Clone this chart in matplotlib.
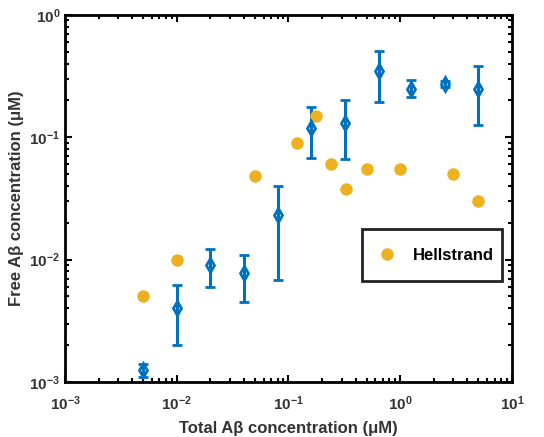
import matplotlib
matplotlib.use('Agg')
import matplotlib.pyplot as plt
from matplotlib.ticker import LogLocator, NullFormatter
from matplotlib.legend_handler import HandlerLine2D

plt.rcParams['font.family'] = ['Liberation Sans', 'DejaVu Sans']
plt.rcParams['font.weight'] = 'bold'

# Measured free Abeta (blue, with error bars)
total_meas = [0.005, 0.01, 0.02, 0.04, 0.08, 0.16, 0.32, 0.64, 1.25, 2.5, 5.0]
free_meas = [0.00125, 0.004, 0.009, 0.0078, 0.023, 0.12, 0.13, 0.35, 0.25, 0.27, 0.25]
free_low = [0.0011, 0.002, 0.006, 0.0045, 0.0068, 0.067, 0.066, 0.195, 0.215, 0.255, 0.125]
free_high = [0.0014, 0.0062, 0.0122, 0.011, 0.040, 0.175, 0.20, 0.51, 0.295, 0.29, 0.385]

# Hellstrand data (orange)
total_hell = [0.005, 0.01, 0.05, 0.12, 0.175, 0.24, 0.33, 0.5, 1.0, 3.0, 5.0]
free_hell = [0.005, 0.01, 0.048, 0.09, 0.15, 0.06, 0.038, 0.055, 0.055, 0.05, 0.03]

blue = '#0072BD'
orange = '#EDB120'


class LowerHandler(HandlerLine2D):
    # nudge the legend marker down so it lines up with the label
    def create_artists(self, *args, **kwargs):
        arts = super().create_artists(*args, **kwargs)
        for a in arts:
            a.set_ydata([y - 3.5 for y in a.get_ydata()])
        return arts


fig = plt.figure(figsize=(5.44, 4.37), dpi=100)
ax = fig.add_axes([0.1195, 0.126, 0.8215, 0.840])

yerr = [[v - lo for v, lo in zip(free_meas, free_low)],
        [hi - v for v, hi in zip(free_meas, free_high)]]
ax.errorbar(total_meas, free_meas, yerr=yerr, fmt='d', color=blue,
            mfc='none', mec=blue, mew=2, ms=7.5, elinewidth=2.2,
            capsize=3.5, capthick=2)
hell, = ax.plot(total_hell, free_hell, 'o', color=orange, ms=9, mec='none',
                label='Hellstrand')

ax.set_xscale('log')
ax.set_yscale('log')
ax.set_xlim(1e-3, 10)
ax.set_ylim(1e-3, 1)

for a in (ax.xaxis, ax.yaxis):
    a.set_major_locator(LogLocator(base=10, numticks=10))
    a.set_minor_locator(LogLocator(base=10, subs=range(2, 10), numticks=50))
    a.set_minor_formatter(NullFormatter())

ax.tick_params(which='both', direction='in', top=True, right=True,
               labelsize=11, width=1.5, labelcolor='#333333')
ax.tick_params(which='major', length=5)
ax.tick_params(which='minor', length=3)
ax.tick_params(axis='x', which='major', pad=9)
for s in ax.spines.values():
    s.set_linewidth(2)

ax.set_xlabel('Total Aβ concentration (μM)', fontsize=12, fontweight='bold',
              color='#333333', labelpad=6)
ax.set_ylabel('Free Aβ concentration (μM)', fontsize=12, fontweight='bold',
              color='#333333')

leg = ax.legend(loc='center', bbox_to_anchor=(0.822, 0.345),
                fontsize=12, frameon=True, fancybox=False, framealpha=1,
                borderpad=0.5, handlelength=2.0, handleheight=2.85,
                handletextpad=0.55, borderaxespad=0,
                handler_map={hell: LowerHandler()})
leg.get_frame().set_edgecolor('#222222')
leg.get_frame().set_linewidth(2)

fig.savefig('out.png', dpi=100)
